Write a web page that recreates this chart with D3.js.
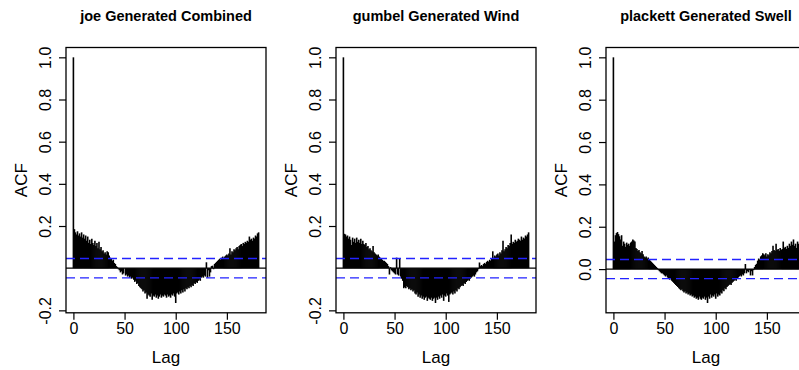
<!DOCTYPE html>
<html>
<head>
<meta charset="utf-8">
<script src="https://cdn.jsdelivr.net/npm/d3@7"></script>
<style>
  body { margin: 0; background: #fff; }
  svg { display: block; font-family: "Liberation Sans", Arial, sans-serif; }
</style>
</head>
<body>
<div id="chart"></div>
<script>
// ACF values, lag 0..181
const joeCombined = [
  1.00, 0.185, 0.17, 0.16, 0.175, 0.155, 0.165, 0.15, 0.17, 0.145,
  0.16, 0.14, 0.155, 0.13, 0.15, 0.12, 0.135, 0.115, 0.14, 0.12,
  0.11, 0.13, 0.105, 0.12, 0.095, 0.125, 0.09, 0.10, 0.08, 0.085,
  0.07, 0.075, 0.065, 0.08, 0.075, 0.06, 0.05, 0.045, 0.035, 0.04,
  0.025, 0.02, 0.01, 0.005, -0.005, -0.01, -0.02, -0.015, -0.03, -0.025,
  0.0, -0.035, -0.03, -0.04, -0.035, -0.045, -0.04, -0.05, -0.045, -0.055,
  -0.065, -0.06, -0.075, -0.07, -0.085, -0.09, -0.095, -0.10, -0.11, -0.105,
  -0.12, -0.115, -0.145, -0.125, -0.13, -0.135, -0.12, -0.15, -0.13, -0.135,
  -0.125, -0.14, -0.13, -0.145, -0.135, -0.125, -0.14, -0.13, -0.135, -0.125,
  -0.13, -0.14, -0.125, -0.135, -0.13, -0.14, -0.125, -0.13, -0.12, -0.135,
  -0.165, -0.12, -0.115, -0.125, -0.11, -0.12, -0.105, -0.115, -0.10, -0.11,
  -0.095, -0.10, -0.09, -0.095, -0.085, -0.09, -0.08, -0.085, -0.07, -0.075,
  -0.065, -0.07, -0.06, -0.055, -0.06, -0.045, -0.04, -0.045, -0.035, -0.04,
  0.028, -0.045, -0.01, -0.04, -0.02, 0.01, 0.012, -0.005, 0.02, 0.025,
  0.03, 0.035, 0.04, 0.045, 0.04, 0.05, 0.055, 0.045, 0.055, 0.06,
  0.065, 0.06, 0.07, 0.095, 0.065, 0.08, 0.075, 0.09, 0.085, 0.095,
  0.10, 0.09, 0.105, 0.11, 0.115, 0.105, 0.12, 0.115, 0.125, 0.12,
  0.13, 0.125, 0.15, 0.135, 0.14, 0.13, 0.145, 0.14, 0.155, 0.15,
  0.165, 0.17
];

const gumbelWind = [
  1.00, 0.163, 0.16, 0.15, 0.155, 0.14, 0.15, 0.135, 0.11, 0.145,
  0.125, 0.14, 0.12, 0.145, 0.125, 0.135, 0.12, 0.14, 0.115, 0.13,
  0.115, 0.11, 0.12, 0.10, 0.105, 0.09, 0.095, 0.085, 0.08, 0.105,
  0.075, 0.07, 0.065, 0.06, 0.065, 0.055, 0.05, 0.045, 0.04, 0.035,
  0.035, 0.03, 0.025, 0.02, 0.01, -0.03, 0.005, -0.01, -0.015, -0.02,
  -0.025, -0.03, 0.05, -0.03, -0.035, 0.045, -0.04, -0.05, -0.06, -0.095,
  -0.09, -0.095, -0.085, -0.09, -0.10, -0.095, -0.105, -0.10, -0.11, -0.105,
  -0.12, -0.125, -0.115, -0.135, -0.125, -0.14, -0.13, -0.145, -0.135, -0.15,
  -0.14, -0.135, -0.155, -0.14, -0.145, -0.15, -0.14, -0.155, -0.145, -0.14,
  -0.165, -0.14, -0.15, -0.135, -0.145, -0.13, -0.14, -0.125, -0.155, -0.13,
  -0.135, -0.12, -0.13, -0.16, -0.125, -0.12, -0.115, -0.125, -0.11, -0.12,
  -0.105, -0.11, -0.095, -0.10, -0.09, -0.085, -0.08, -0.085, -0.07, -0.075,
  -0.065, -0.06, -0.055, -0.06, -0.05, -0.045, -0.04, -0.035, -0.04, -0.03,
  -0.02, -0.015, -0.005, 0.027, 0.01, 0.015, 0.01, 0.02, 0.025, 0.02,
  0.03, 0.035, 0.03, 0.04, 0.035, 0.045, 0.08, 0.05, 0.06, 0.055,
  0.065, 0.07, 0.06, 0.075, 0.07, 0.085, 0.13, 0.08, 0.09, 0.10,
  0.095, 0.11, 0.105, 0.12, 0.16, 0.115, 0.125, 0.12, 0.135, 0.125,
  0.13, 0.14, 0.135, 0.13, 0.15, 0.135, 0.145, 0.14, 0.155, 0.15,
  0.16, 0.17
];

const plackettSwell = [
  1.00, 0.13, 0.16, 0.17, 0.175, 0.165, 0.155, 0.14, 0.16, 0.11,
  0.13, 0.12, 0.105, 0.125, 0.115, 0.12, 0.11, 0.125, 0.13, 0.14,
  0.135, 0.13, 0.10, 0.095, 0.085, 0.09, 0.08, 0.075, 0.085, 0.07,
  0.06, 0.055, 0.06, 0.05, 0.055, 0.045, 0.04, 0.035, 0.03, 0.025,
  0.02, 0.015, 0.01, 0.005, -0.005, -0.01, -0.015, -0.02, -0.02, -0.025,
  -0.03, -0.035, -0.03, -0.04, -0.045, -0.05, -0.045, -0.055, -0.06, -0.065,
  -0.07, -0.075, -0.08, -0.085, -0.09, -0.095, -0.10, -0.095, -0.105, -0.11,
  -0.105, -0.115, -0.11, -0.12, -0.115, -0.125, -0.12, -0.13, -0.125, -0.135,
  -0.13, -0.14, -0.135, -0.145, -0.13, -0.14, -0.145, -0.135, -0.14, -0.13,
  -0.145, -0.135, -0.16, -0.13, -0.14, -0.12, -0.135, -0.125, -0.13, -0.12,
  -0.14, -0.115, -0.13, -0.12, -0.125, -0.11, -0.115, -0.10, -0.105, -0.09,
  -0.095, -0.085, -0.08, -0.075, -0.07, -0.075, -0.065, -0.06, -0.055, -0.05,
  -0.055, -0.045, -0.04, -0.035, -0.03, -0.035, -0.025, -0.03, -0.02, 0.024,
  -0.02, -0.01, -0.015, -0.005, -0.03, -0.01, -0.03, -0.005, 0.01, 0.02,
  0.025, 0.04, 0.05, 0.045, 0.06, 0.065, 0.075, 0.07, 0.065, 0.075,
  0.06, 0.07, 0.065, 0.08, 0.075, 0.085, 0.11, 0.09, 0.085, 0.12,
  0.09, 0.095, 0.085, 0.10, 0.09, 0.095, 0.13, 0.10, 0.105, 0.095,
  0.11, 0.10, 0.12, 0.11, 0.13, 0.115, 0.14, 0.11, 0.12, 0.10,
  0.13, 0.12
];

const titles = ['joe Generated Combined', 'gumbel Generated Wind', 'plackett Generated Swell'];
const series = [joeCombined, gumbelWind, plackettSwell];
const confLimits = [0.046, 0.046, 0.045];
const xTicks = [0, 50, 100, 150];
const yTicksList = [
  [-0.2, 0.2, 0.4, 0.6, 0.8, 1.0],
  [-0.2, 0.2, 0.4, 0.6, 0.8, 1.0],
  [0.0, 0.2, 0.4, 0.6, 0.8, 1.0]
];

const W = 799, H = 370;
const panelW = 270;
const box = {left: 66, right: 266, top: 47.5, bottom: 312.8};
const fmt1 = d => d3.format('.1f')(d).replace('\u2212', '-');

const svg = d3.select('#chart').append('svg')
  .attr('width', W)
  .attr('height', H);

series.forEach((vals, p) => {
  const g = svg.append('g').attr('transform', 'translate(' + (p * panelW) + ',0)');

  // R style limits: data range extended by 4%
  const maxLag = vals.length - 1;
  const xpad = 0.04 * maxLag;
  const x = d3.scaleLinear()
    .domain([-xpad, maxLag + xpad])
    .range([box.left, box.right]);

  const lo = d3.min([d3.min(vals), -confLimits[p]]);
  const hi = d3.max(vals);
  const ypad = 0.04 * (hi - lo);
  const y = d3.scaleLinear()
    .domain([lo - ypad, hi + ypad])
    .range([box.bottom, box.top]);

  // bars
  g.append('g').selectAll('line')
    .data(vals)
    .join('line')
    .attr('x1', (d, i) => x(i))
    .attr('x2', (d, i) => x(i))
    .attr('y1', y(0))
    .attr('y2', d => y(d))
    .attr('stroke', '#000')
    .attr('stroke-width', 1.6);

  // zero line
  g.append('line')
    .attr('x1', box.left).attr('x2', box.right)
    .attr('y1', y(0)).attr('y2', y(0))
    .attr('stroke', '#000')
    .attr('stroke-width', 1.3);

  // confidence bounds
  [confLimits[p], -confLimits[p]].forEach(c => {
    g.append('line')
      .attr('x1', box.left).attr('x2', box.right)
      .attr('y1', y(c)).attr('y2', y(c))
      .attr('stroke', '#2222ff')
      .attr('stroke-width', 1.4)
      .attr('stroke-dasharray', '9,5');
  });

  // box
  g.append('rect')
    .attr('x', box.left).attr('y', box.top)
    .attr('width', box.right - box.left)
    .attr('height', box.bottom - box.top)
    .attr('fill', 'none')
    .attr('stroke', '#000')
    .attr('stroke-width', 1.3);

  // x axis
  const xAxis = g.append('g')
    .attr('transform', 'translate(0,' + box.bottom + ')')
    .call(d3.axisBottom(x).tickValues(xTicks).tickSize(7).tickPadding(3).tickFormat(d3.format('d')));
  xAxis.select('.domain').remove();
  xAxis.selectAll('line').attr('stroke', '#000').attr('stroke-width', 1.2);
  xAxis.selectAll('text')
    .attr('font-size', 16)
    .attr('font-family', '"Liberation Sans", Arial, sans-serif')
    .attr('fill', '#000');

  // y axis with labels rotated like R
  const yTicks = yTicksList[p];
  const yAxis = g.append('g')
    .attr('transform', 'translate(' + box.left + ',0)')
    .call(d3.axisLeft(y).tickValues(yTicks).tickSize(7).tickFormat(fmt1));
  yAxis.select('.domain').remove();
  yAxis.selectAll('line').attr('stroke', '#000').attr('stroke-width', 1.2);
  yAxis.selectAll('text')
    .attr('font-size', 16)
    .attr('font-family', '"Liberation Sans", Arial, sans-serif')
    .attr('fill', '#000')
    .attr('x', null).attr('dy', null)
    .attr('text-anchor', 'middle')
    .attr('transform', 'translate(-15,0) rotate(-90)');

  // titles
  g.append('text')
    .attr('x', (box.left + box.right) / 2)
    .attr('y', 21)
    .attr('text-anchor', 'middle')
    .attr('font-size', 14.5)
    .attr('font-weight', 'bold')
    .text(titles[p]);

  g.append('text')
    .attr('x', (box.left + box.right) / 2)
    .attr('y', 363)
    .attr('text-anchor', 'middle')
    .attr('font-size', 17)
    .text('Lag');

  g.append('text')
    .attr('transform', 'translate(27,' + ((box.top + box.bottom) / 2) + ') rotate(-90)')
    .attr('text-anchor', 'middle')
    .attr('font-size', 17)
    .text('ACF');
});
</script>
</body>
</html>
